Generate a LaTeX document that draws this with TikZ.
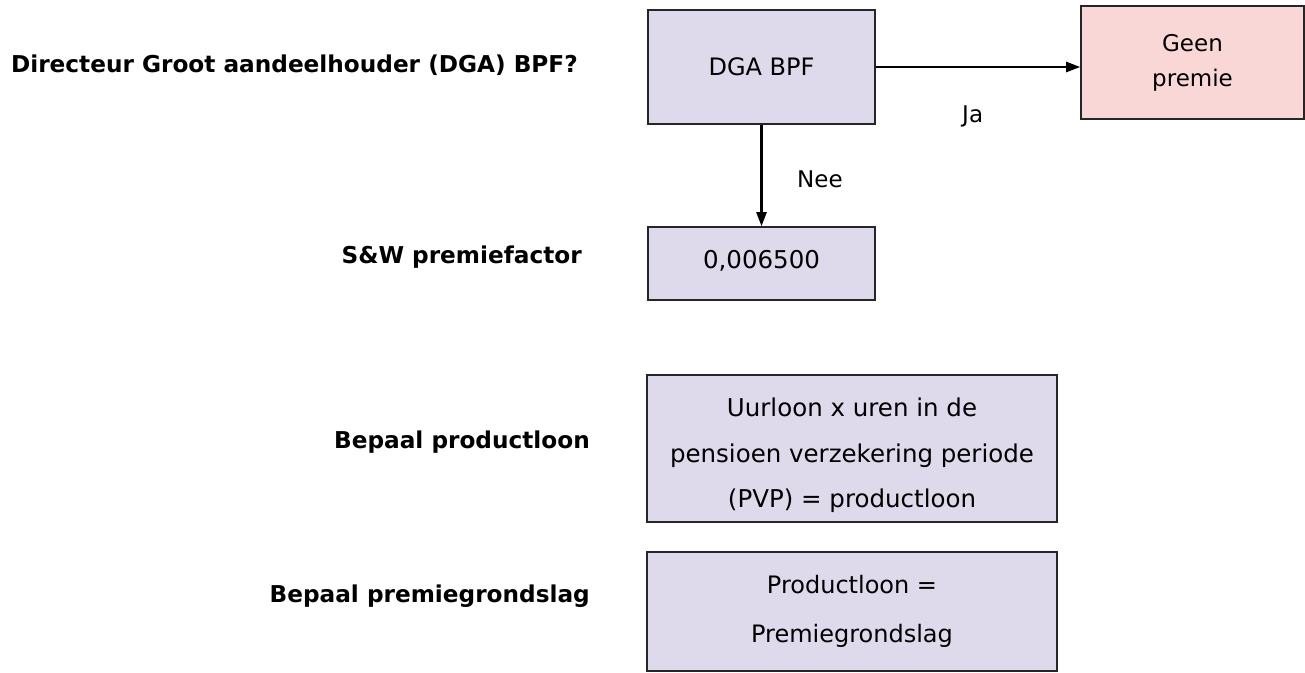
\documentclass[tikz,border=0pt]{standalone}
\usepackage{fontspec}
\setmainfont{DejaVu Sans}
\usetikzlibrary{arrows.meta}
\definecolor{lav}{HTML}{DEDAEC}
\definecolor{pinkbox}{HTML}{FAD7D7}
\tikzset{
  box/.style={draw=black!85, line width=1.6pt, fill=lav, inner sep=0pt, align=center},
  redbox/.style={box, fill=pinkbox},
  lbl/.style={font=\fontsize{23.2}{28}\selectfont\bfseries, anchor=base east, inner sep=0pt},
  yn/.style={font=\fontsize{23}{28}\selectfont, anchor=base west, inner sep=0pt},
  arr/.style={line width=2.4pt, -{Triangle[length=14pt,width=10pt]}}
}
\begin{document}
\begin{tikzpicture}[x=1pt,y=-1pt]
\useasboundingbox (0,0) rectangle (1305,672);
% left labels
\node[lbl] (l1) at (578,72) {Directeur Groot aandeelhouder (DGA) BPF?};
\node[lbl] (l2) at (582,263) {S\&W premiefactor};
\node[lbl] (l3) at (590,448) {Bepaal productloon};
\node[lbl] (l4) at (590,602) {Bepaal premiegrondslag};
% boxes
\node[box, minimum width=227pt, minimum height=114pt, font=\fontsize{24}{28}\selectfont] (dga) at (761.5,67) {DGA BPF};
\node[redbox, minimum width=223pt, minimum height=113pt, font=\fontsize{23}{35}\selectfont] (geen) at (1192.5,62.5) {Geen\\premie};
\node[box, minimum width=227pt, minimum height=73pt, font=\fontsize{24.5}{28}\selectfont] (fac) at (761.5,263.5) {0,006500\rule[-9pt]{0pt}{9pt}};
\node[box, minimum width=410pt, minimum height=147pt, font=\fontsize{24.5}{45.5}\selectfont] (pl) at (852,448.5) {\rule{0pt}{33pt}Uurloon x uren in de\\pensioen verzekering periode\\(PVP) = productloon};
\node[box, minimum width=410pt, minimum height=119pt, font=\fontsize{24}{49}\selectfont] (pg) at (852,611.5) {Productloon =\\Premiegrondslag};
% connectors
\draw[arr] (dga.east) -- (dga.east -| geen.west);
\draw[arr] (dga.south) -- (fac.north);
\node[yn] (ja) at (962,122) {Ja};
\node[yn] (nee) at (797,187) {Nee};
\end{tikzpicture}
\end{document}
